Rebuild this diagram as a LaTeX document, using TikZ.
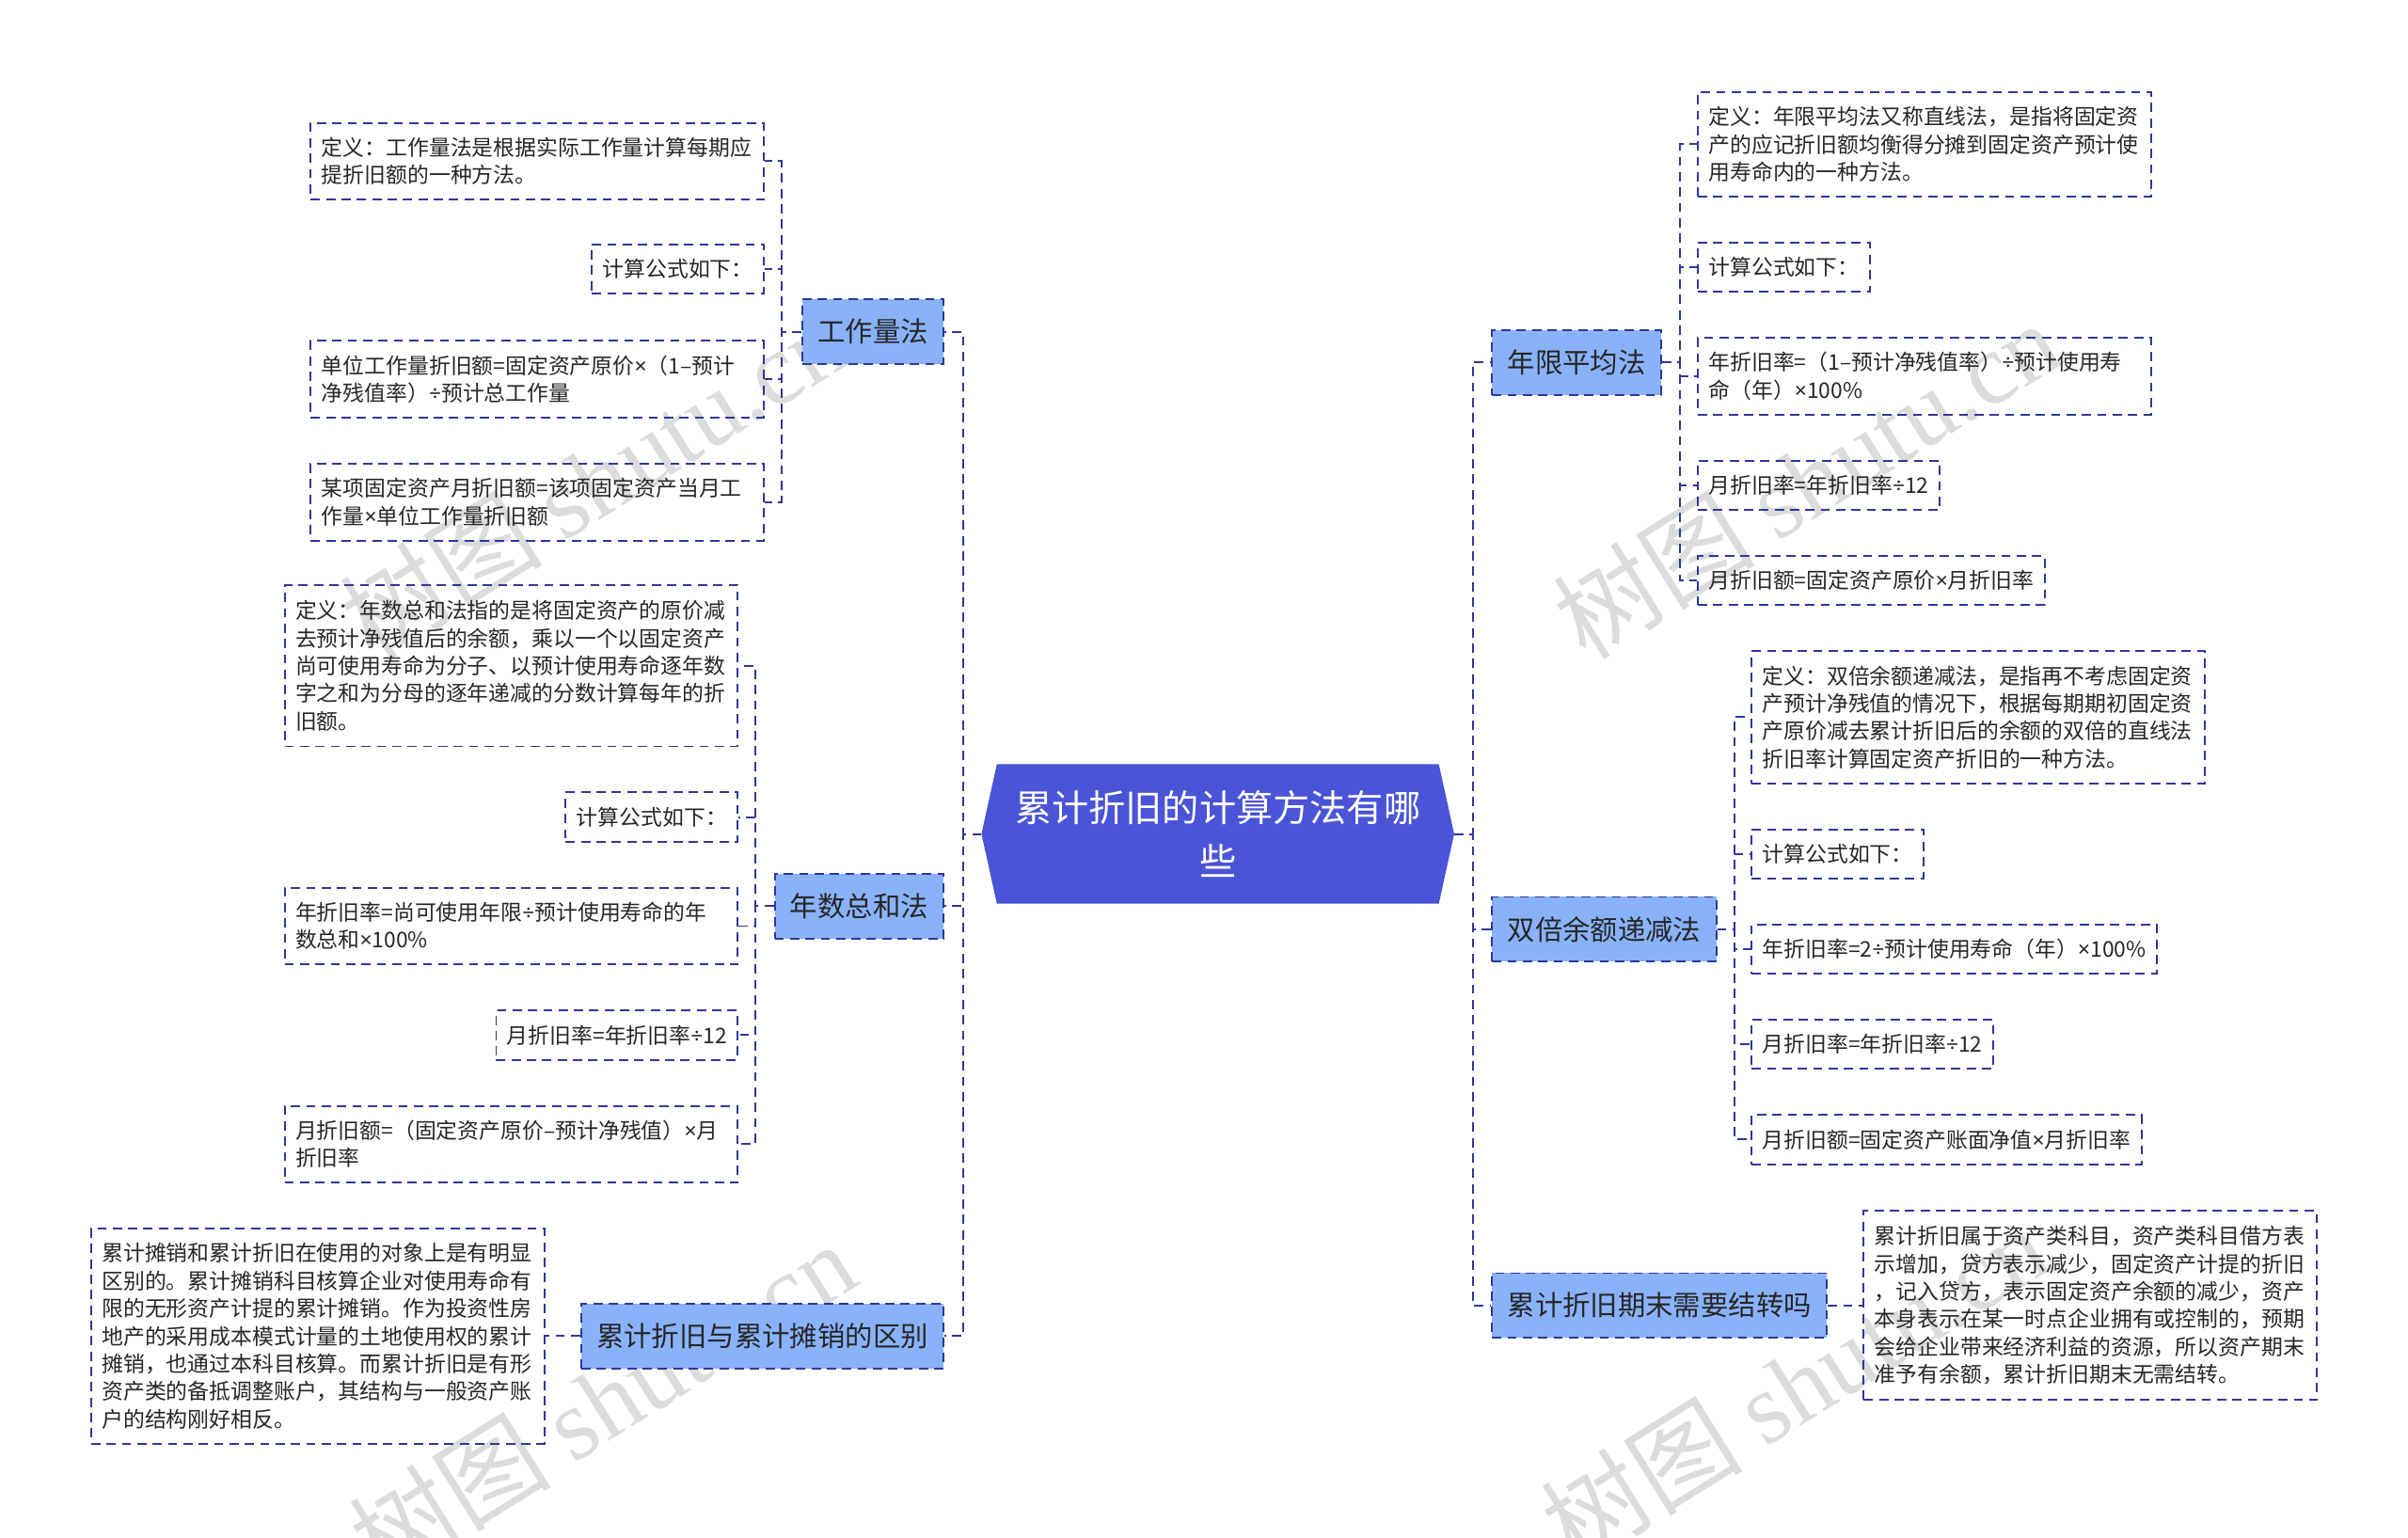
\documentclass[tikz,border=0pt]{standalone}
\usepackage{fontspec}
\setmainfont{Noto Sans CJK SC}
\newfontfamily\latf{Noto Sans}
\newfontfamily\wmlatin{Liberation Serif}
\newcommand\tms{{\latf ×}}
\newcommand\dvs{{\latf ÷}}
\usetikzlibrary{backgrounds}
\definecolor{lineblue}{HTML}{303896}
\definecolor{rootblue}{HTML}{4A54D6}
\definecolor{lvlblue}{HTML}{89B2F9}
\definecolor{leaftext}{HTML}{262626}
\definecolor{wmgray}{HTML}{DCDCDC}
\begin{document}
\begin{tikzpicture}[x=0.5pt,y=-0.5pt,
  dashline/.style={draw=lineblue, line width=0.6pt, dash pattern=on 3pt off 2pt},
  conn/.style={dashline},
  leaf/.style={dashline, text=leaftext, align=left, inner xsep=3.5pt, inner ysep=0pt,
    font=\fontsize{7pt}{9pt}\selectfont},
  wide/.style={leaf, text width=140.5pt},
  lvl/.style={dashline, fill=lvlblue, text=leaftext, inner xsep=5pt, inner ysep=0pt,
    minimum height=21pt, font=\fontsize{9pt}{11pt}\selectfont},
  rootnode/.style={text=white, align=center, minimum width=153.5pt, minimum height=45pt,
    inner sep=0pt, font=\fontsize{12pt}{17.5pt}\selectfont},
  wm/.style={text=wmgray, rotate=32, inner sep=0pt, font=\fontsize{33pt}{33pt}\selectfont}
]
\useasboundingbox (0,0) rectangle (1568,1001);

% watermarks
\node[wm] (wm1) at (386,312) {树图 {\wmlatin shutu.cn}};
\node[wm] (wm2) at (1176,312) {树图 {\wmlatin shutu.cn}};
\node[wm] (wm3) at (392,912) {树图 {\wmlatin shutu.cn}};
\node[wm] (wm4) at (1168,902) {树图 {\wmlatin shutu.cn}};

% root
\node[rootnode] (root) at (793,543) {累计折旧的计算方法有哪\\些};
\begin{scope}[on background layer]
\fill[rootblue] ([xshift=5pt]root.north west) -- (root.west) -- ([xshift=5pt]root.south west)
  -- ([xshift=-5pt]root.south east) -- (root.east) -- ([xshift=-5pt]root.north east) -- cycle;
\end{scope}

% level 1 nodes
\node[lvl, anchor=east] (gzl) at (615,216) {工作量法};
\node[lvl, anchor=east] (nszh) at (615,590) {年数总和法};
\node[lvl, anchor=east] (qb) at (615,870) {累计折旧与累计摊销的区别};
\node[lvl, anchor=west] (nxpj) at (971,236) {年限平均法};
\node[lvl, anchor=west] (sbye) at (971,605) {双倍余额递减法};
\node[lvl, anchor=west] (ljzj) at (971,850) {累计折旧期末需要结转吗};

% leaves: 工作量法
\node[wide, anchor=east, minimum height=25pt] (a1) at (498,105) {定义：工作量法是根据实际工作量计算每期应\\提折旧额的一种方法。};
\node[leaf, anchor=east, minimum height=16pt] (a2) at (498,175) {计算公式如下：};
\node[wide, anchor=east, minimum height=25pt] (a3) at (498,247) {单位工作量折旧额=固定资产原价\tms（1–预计\\净残值率）\dvs 预计总工作量};
\node[wide, anchor=east, minimum height=25pt] (a4) at (498,327) {某项固定资产月折旧额=该项固定资产当月工\\作量\tms 单位工作量折旧额};

% leaves: 年数总和法
\node[wide, anchor=east, minimum height=52.5pt] (b1) at (481,433.5) {定义：年数总和法指的是将固定资产的原价减\\去预计净残值后的余额，乘以一个以固定资产\\尚可使用寿命为分子、以预计使用寿命逐年数\\字之和为分母的逐年递减的分数计算每年的折\\旧额。};
\node[leaf, anchor=east, minimum height=16pt] (b2) at (481,532) {计算公式如下：};
\node[wide, anchor=east, minimum height=25pt] (b3) at (481,603) {年折旧率=尚可使用年限\dvs 预计使用寿命的年\\数总和\tms 100\%};
\node[leaf, anchor=east, minimum height=16pt] (b4) at (481,674) {月折旧率=年折旧率\dvs 12};
\node[wide, anchor=east, minimum height=25pt] (b5) at (481,745) {月折旧额=（固定资产原价–预计净残值）\tms 月\\折旧率};

% leaf: 区别
\node[wide, anchor=east, minimum height=70pt] (c1) at (355,870) {累计摊销和累计折旧在使用的对象上是有明显\\区别的。累计摊销科目核算企业对使用寿命有\\限的无形资产计提的累计摊销。作为投资性房\\地产的采用成本模式计量的土地使用权的累计\\摊销，也通过本科目核算。而累计折旧是有形\\资产类的备抵调整账户，其结构与一般资产账\\户的结构刚好相反。};

% leaves: 年限平均法
\node[wide, anchor=west, minimum height=34pt] (r1) at (1105,94) {定义：年限平均法又称直线法，是指将固定资\\产的应记折旧额均衡得分摊到固定资产预计使\\用寿命内的一种方法。};
\node[leaf, anchor=west, minimum height=16pt] (r2) at (1105,174) {计算公式如下：};
\node[wide, anchor=west, minimum height=25pt] (r3) at (1105,245) {年折旧率=（1–预计净残值率）\dvs 预计使用寿\\命（年）\tms 100\%};
\node[leaf, anchor=west, minimum height=16pt] (r4) at (1105,316) {月折旧率=年折旧率\dvs 12};
\node[leaf, anchor=west, minimum height=16pt] (r5) at (1105,378) {月折旧额=固定资产原价\tms 月折旧率};

% leaves: 双倍余额递减法
\node[wide, anchor=west, minimum height=43pt] (s1) at (1140,467) {定义：双倍余额递减法，是指再不考虑固定资\\产预计净残值的情况下，根据每期期初固定资\\产原价减去累计折旧后的余额的双倍的直线法\\折旧率计算固定资产折旧的一种方法。};
\node[leaf, anchor=west, minimum height=16pt] (s2) at (1140,556) {计算公式如下：};
\node[leaf, anchor=west, minimum height=16pt] (s3) at (1140,618) {年折旧率=2\dvs 预计使用寿命（年）\tms 100\%};
\node[leaf, anchor=west, minimum height=16pt] (s4) at (1140,680) {月折旧率=年折旧率\dvs 12};
\node[leaf, anchor=west, minimum height=16pt] (s5) at (1140,742) {月折旧额=固定资产账面净值\tms 月折旧率};

% leaf: 结转
\node[wide, anchor=west, minimum height=61.5pt] (t1) at (1213,850) {累计折旧属于资产类科目，资产类科目借方表\\示增加，贷方表示减少，固定资产计提的折旧\\，记入贷方，表示固定资产余额的减少，资产\\本身表示在某一时点企业拥有或控制的，预期\\会给企业带来经济利益的资源，所以资产期末\\准予有余额，累计折旧期末无需结转。};

% connectors
\foreach \c in {gzl,nszh,qb} \draw[conn] (root.west) -- ++(-12,0) |- (\c.east);
\foreach \c in {nxpj,sbye,ljzj} \draw[conn] (root.east) -- ++(12,0) |- (\c.west);
\foreach \c in {a1,a2,a3,a4} \draw[conn] (gzl.west) -- ++(-13,0) |- (\c.east);
\foreach \c in {b1,b2,b3,b4,b5} \draw[conn] (nszh.west) -- ++(-12,0) |- (\c.east);
\draw[conn] (qb.west) -- (c1.east);
\foreach \c in {r1,r2,r3,r4,r5} \draw[conn] (nxpj.east) -- ++(12,0) |- (\c.west);
\foreach \c in {s1,s2,s3,s4,s5} \draw[conn] (sbye.east) -- ++(11,0) |- (\c.west);
\draw[conn] (ljzj.east) -- (t1.west);
\end{tikzpicture}
\end{document}
